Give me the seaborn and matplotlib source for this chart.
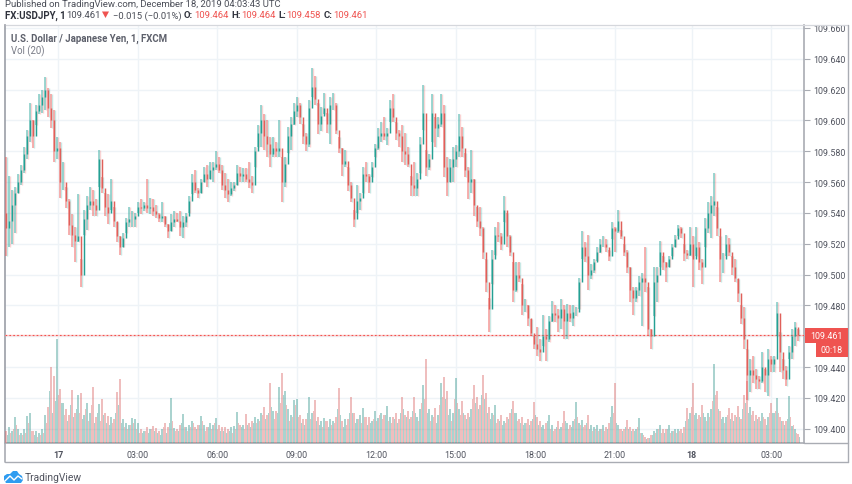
#!/usr/bin/env python
# -*- coding: utf-8 -*-
"""USDJPY 1 minute chart, TradingView look"""
import numpy as np
import pandas as pd
import matplotlib
matplotlib.use('Agg')
import matplotlib.pyplot as plt
import seaborn as sns
from matplotlib.patches import Polygon, Rectangle
from matplotlib.lines import Line2D

sns.set_style("white")
plt.rcParams['font.family'] = ['Roboto', 'DejaVu Sans']

# prices are thousandths above 109.000
high_pts = [
    576,564,555,557,565,571,583,594,611,600, 610,617,620,628,621,617,607,589,586,573,
    557,549,539,531,552,510,542,551,557,555, 549,581,563,553,552,562,544,534,525,527,
    537,544,541,540,547,549,547,562,550,549, 545,540,547,538,533,539,541,540,541,538,
    540,551,565,568,556,562,570,571,573,573, 580,576,571,566,562,560,560,571,570,569,
    569,573,564,583,597,610,604,600,589,589, 586,600,576,576,596,602,611,615,611,598,
    592,613,634,629,611,609,618,605,615,618, 611,589,582,581,570,560,542,558,553,570,
    573,565,573,585,595,599,602,595,613,617, 599,594,597,592,583,564,573,566,589,623,
    581,578,617,602,602,617,610,576,575,583, 584,604,596,579,570,581,562,544,544,531,
    510,485,516,531,534,527,551,540,526,508, 508,508,494,484,480,471,460,466,458,474,
    465,473,483,480,478,484,480,481,480,480, 479,498,528,521,526,507,510,518,523,525,
    523,516,534,531,542,529,520,516,505,492, 492,499,501,518,492,465,505,505,522,512,
    508,512,520,526,532,531,520,516,531,525, 531,521,510,537,547,551,566,544,525,514,
    526,524,512,510,497,480,479,452,445,447, 439,434,450,439,452,447,447,482,463,445,
    441,454,465,469,465,
]
low_pts = [
    512,518,520,527,553,558,566,575,586,582, 597,604,605,607,602,595,573,575,550,555,
    543,526,518,508,521,492,526,529,542,538, 538,557,553,538,533,542,531,521,513,518,
    527,531,531,531,540,539,541,540,539,538, 537,534,534,531,524,528,531,534,525,524,
    531,540,552,553,550,553,560,557,562,560, 568,566,555,550,547,551,554,558,560,560,
    560,556,553,570,583,583,581,576,570,576, 576,576,547,557,579,581,597,602,598,585,
    580,583,615,610,591,593,604,592,585,607, 591,579,564,570,554,547,531,540,542,553,
    560,553,563,576,581,586,587,584,599,599, 587,583,573,571,570,551,551,551,566,594,
    564,568,586,583,589,596,563,551,560,560, 570,576,576,563,549,553,538,531,525,510,
    489,463,494,513,521,516,534,518,512,482, 489,495,474,476,467,460,452,447,444,454,
    444,456,469,469,463,465,458,458,469,467, 473,478,510,508,490,497,501,509,514,518,
    515,509,523,515,527,523,512,501,482,474, 482,486,467,489,460,452,473,482,505,503,
    495,505,512,518,525,524,509,510,512,492, 512,503,494,518,527,524,538,525,495,501,
    512,512,500,495,482,468,452,419,424,430, 426,426,430,424,421,437,437,460,437,432,
    428,445,445,454,457,
]
close_pts = [
    530,535,545,553,560,568,578,590,600,590, 606,610,615,620,608,600,580,582,560,560,
    548,532,526,522,525,500,536,545,548,545, 542,575,556,544,540,548,535,525,518,524,
    534,536,536,538,544,543,545,543,544,541, 539,537,538,533,528,534,536,535,531,534,
    538,548,560,555,553,560,565,562,568,570, 572,568,558,555,552,556,558,566,564,565,
    562,560,558,580,592,600,590,585,578,582, 580,582,560,572,590,598,606,610,602,590,
    585,608,622,614,598,603,608,598,610,610, 594,582,572,574,558,550,536,548,550,565,
    564,560,570,582,590,592,590,592,608,602, 592,590,580,578,572,558,556,562,585,605,
    570,575,605,595,598,605,570,560,570,575, 580,590,582,568,560,562,545,535,530,515,
    495,478,510,526,525,520,542,525,515,490, 500,498,480,480,472,462,455,452,450,460,
    458,470,475,474,472,478,470,475,472,476, 476,495,518,512,500,503,508,515,520,520,
    518,512,530,528,535,525,515,505,490,485, 490,495,498,495,465,460,495,500,515,508,
    505,510,518,523,530,527,514,513,520,510, 518,508,505,530,540,545,548,530,510,510,
    520,515,505,498,488,472,458,435,438,435, 432,431,440,435,445,442,445,475,450,438,
    432,450,460,466,461,
]
# volume bars, one with the candle and one of the other colour just after it
volume = [
    12,16,12,26,14,10,14,27,30,12, 12,10,14,28,36,76,67,104,54,40,
    34,28,53,30,48,50,28,40,30,56, 26,39,44,30,27,26,24,51,64,24,
    20,18,25,24,20,14,12,16,14,17, 15,12,14,20,16,45,15,14,18,29,
    16,18,22,16,18,27,18,16,20,18, 25,18,16,16,14,16,17,31,18,18,
    29,20,22,26,24,30,36,28,60,32, 32,56,70,52,34,28,43,44,28,24,
    24,46,30,43,26,22,25,22,24,22, 26,55,22,24,24,46,30,24,28,35,
    26,26,22,32,25,30,28,37,26,26, 30,24,46,28,32,26,46,26,34,58,
    84,34,28,35,28,60,66,52,34,30, 65,34,42,28,30,34,58,46,38,68,
    50,36,30,38,24,28,22,26,30,42, 30,24,26,20,24,22,41,26,22,18,
    20,28,18,14,22,16,32,20,18,22, 41,20,23,18,28,18,16,18,14,18,
    16,20,37,60,18,14,14,23,16,14, 14,25,10,6,5,8,12,14,18,14,
    14,18,12,14,14,14,16,35,30,60, 30,28,38,26,30,34,79,52,32,26,
    26,35,30,28,37,24,48,62,36,32, 28,26,30,24,26,40,30,45,26,22,
    22,47,17,14,9,
]
volume_b = [
    8,10,14,18,8,8,10,20,12,8, 6,8,10,20,52,30,42,48,40,28,
    22,38,26,34,30,24,34,22,38,20, 30,22,28,20,18,20,30,38,20,16,
    14,18,20,14,10,10,12,10,14,12, 10,8,16,10,20,22,12,12,20,16,
    12,16,20,14,18,22,12,16,14,20, 14,12,12,10,12,10,14,20,16,14,
    18,16,20,20,22,28,24,30,36,24, 30,40,48,38,22,26,38,26,20,18,
    30,24,32,22,18,16,22,16,18,20, 34,28,16,18,30,30,20,24,20,26,
    18,20,24,22,28,24,28,22,20,24, 20,30,34,26,24,32,30,22,40,44,
    30,22,26,20,38,46,44,28,22,44, 40,28,30,24,26,44,40,34,48,44,
    30,24,28,20,22,18,20,24,34,30, 22,20,18,20,18,24,28,18,16,14,
    22,14,12,16,14,20,22,14,16,24, 26,18,16,20,14,12,14,12,14,12,
    14,26,30,20,14,12,16,14,12,12, 16,10,8,4,5,8,10,14,10,10,
    14,10,12,10,12,10,22,24,36,28, 24,26,30,22,26,42,48,34,24,20,
    28,24,22,26,26,34,40,30,28,22, 24,22,26,18,30,30,32,30,22,18,
    24,26,18,10,6,
]
first_open_pts = 540

price_ticks = [109.40, 109.42, 109.44, 109.46, 109.48, 109.50, 109.52, 109.54,
               109.56, 109.58, 109.60, 109.62, 109.64, 109.66]
# hours after 17 Dec 00:00 in bar time, the feed loses a few minutes before midnight
time_ticks = [0, 3, 6, 9, 12, 15, 18, 21, 23.9, 26.9]
time_labels = ['17', '03:00', '06:00', '09:00', '12:00', '15:00', '18:00', '21:00', '18', '03:00']
last_price = 109.461

UP = '#26a69a'
DOWN = '#ef5350'
GRID = '#eef3f7'
BORDER = '#a9acb3'
TXT = '#50535e'
W, H = 852, 485
XLIM = (-2.011, 28.14)
YLIM = (109.3908, 109.6619)


def fx(x):
    return x / W


def fy(y):
    return 1 - y / H


df = pd.DataFrame({'high': 109 + np.array(high_pts) / 1000,
                   'low': 109 + np.array(low_pts) / 1000,
                   'close': 109 + np.array(close_pts) / 1000})
df['open'] = df['close'].shift(1).fillna(109 + first_open_pts / 1000)
df['hour'] = -1.974 + 0.1132 * np.arange(len(df))
df['dir'] = np.where(df['close'] >= df['open'], 'up', 'down')
colors = df['dir'].map({'up': UP, 'down': DOWN})
other_colors = df['dir'].map({'up': DOWN, 'down': UP})
body_colors = df['dir'].map({'up': '#24a093', 'down': '#e0605a'})

vol_a = pd.DataFrame({'hour': df['hour'], 'volume': volume, 'dir': df['dir']})
vol_b = pd.DataFrame({'hour': df['hour'] + 0.0566, 'volume': volume_b,
                      'dir': df['dir'].map({'up': 'down', 'down': 'up'})})
vol_df = pd.concat([vol_a, vol_b], ignore_index=True).sort_values('hour')

fig = plt.figure(figsize=(W / 100, H / 100), dpi=100, facecolor='white')
rect = [fx(5), fy(444), fx(804) - fx(5), fy(26) - fy(444)]

# scales and grid at the bottom
ax = fig.add_axes(rect, zorder=1)
ax.set_xlim(*XLIM)
ax.set_ylim(*YLIM)
ax.yaxis.tick_right()
ax.set_yticks(price_ticks)
ax.set_yticklabels(['' if p == 109.46 else '%.3f' % p for p in price_ticks], fontsize=6.4, color=TXT)
ax.set_xticks(time_ticks)
ax.set_xticklabels(time_labels, fontsize=6.4, color=TXT)
ax.get_xticklabels()[0].set_fontweight('bold')
ax.get_xticklabels()[8].set_fontweight('bold')
ax.tick_params(axis='y', length=4, width=0.8, color=BORDER, pad=3)
ax.tick_params(axis='x', length=3, width=0.8, color=BORDER, pad=2)
ax.grid(True, color=GRID, linewidth=1)
ax.set_axisbelow(True)
ax.spines['top'].set_visible(False)
for s in ['left', 'right', 'bottom']:
    ax.spines[s].set_color(BORDER)
    ax.spines[s].set_linewidth(1.2)

# volume pane over the grid
ax_v = fig.add_axes(rect, zorder=2)
ax_v.patch.set_alpha(0)
sns.barplot(data=vol_df, x='hour', y='volume', hue='dir', palette={'up': UP, 'down': DOWN},
            native_scale=True, dodge=False, width=1.0, alpha=0.42, linewidth=0,
            legend=False, ax=ax_v)
ax_v.set_xlim(*XLIM)
ax_v.set_ylim(0, 418)
ax_v.axis('off')

# candles on top
ax_c = fig.add_axes(rect, zorder=3)
ax_c.patch.set_alpha(0)
ax_c.axhline(last_price, color='#ffc9c7', linewidth=1.0, zorder=1)
ax_c.axhline(last_price, color=DOWN, linewidth=0.8, linestyle=(0, (1.5, 2)), zorder=1)
ax_c.vlines(df['hour'] + 0.03, df['low'], df['high'], colors=other_colors, linewidth=1.0, alpha=0.25, zorder=2)
ax_c.vlines(df['hour'], df['low'], df['high'], colors=colors, linewidth=1.3, alpha=0.5, zorder=3)
ax_c.vlines(df['hour'], df[['open', 'close']].min(axis=1), df[['open', 'close']].max(axis=1),
            colors=body_colors, linewidth=1.05, zorder=4)
ax_c.set_xlim(*XLIM)
ax_c.set_ylim(*YLIM)
ax_c.axis('off')

# outer frame around price scale and time scale
fig.add_artist(Line2D([fx(5), fx(848)], [fy(25.5), fy(25.5)], color='#d5d7dc', lw=0.9))
fig.add_artist(Line2D([fx(848), fx(848)], [fy(25.5), fy(463)], color=BORDER, lw=1.0))
fig.add_artist(Line2D([fx(5), fx(848)], [fy(463), fy(463)], color=BORDER, lw=1.0))
fig.add_artist(Line2D([fx(5), fx(5)], [fy(25.5), fy(463)], color=BORDER, lw=1.2))
fig.add_artist(Line2D([fx(804), fx(848)], [fy(444), fy(444)], color=BORDER, lw=1.0))

# header lines
fig.text(fx(5), fy(4.5), 'Published on TradingView.com, December 18, 2019 04:03:43 UTC',
         fontsize=6.8, color='#4a4d57', va='center')
y_head = fy(16)
fig.text(fx(5), y_head, 'FX:USDJPY, 1', fontsize=7.0, fontweight='bold', color='#2f323c', va='center')
fig.text(fx(66), y_head, '109.461', fontsize=6.8, color='#4a4d57', va='center')
fig.add_artist(Polygon([[fx(102), fy(12.5)], [fx(109), fy(12.5)], [fx(105.5), fy(19)]], closed=True,
                       facecolor=DOWN, edgecolor='none'))
fig.text(fx(113), y_head, '\u22120.015 (\u22120.01%)', fontsize=6.8, color='#4a4d57', va='center')
for lx, lab, vx, val in [(184, 'O:', 194, '109.464'), (231, 'H:', 241, '109.464'),
                         (278, 'L:', 286, '109.458'), (324, 'C:', 333, '109.461')]:
    fig.text(fx(lx), y_head, lab, fontsize=6.8, fontweight='bold', color='#2f323c', va='center')
    fig.text(fx(vx), y_head, val, fontsize=6.8, color=DOWN, va='center')

# legend text inside the pane
fig.text(fx(11), fy(38.5), 'U.S. Dollar / Japanese Yen, 1, FXCM', fontsize=6.9, fontweight='bold',
         color='#5d606b', va='center', zorder=6)
fig.text(fx(11), fy(51), 'Vol (20)', fontsize=6.9, color='#787b86', va='center', zorder=6)

# last price tags on the scale
fig.add_artist(Rectangle((fx(805), fy(344)), fx(43), fy(329) - fy(344), facecolor=DOWN, edgecolor='none', zorder=6))
fig.add_artist(Rectangle((fx(816), fy(358)), fx(32), fy(344) - fy(358), facecolor=DOWN, edgecolor='none', zorder=6))
fig.text(fx(826.5), fy(336.5), '109.461', fontsize=6.4, color='white', va='center', ha='center', zorder=7)
fig.text(fx(832), fy(351), '00:18', fontsize=6.4, color='white', va='center', ha='center', zorder=7)

# TradingView mark
logo = [[4, 481], [4, 477], [7, 475], [10, 475], [13, 472], [17, 472], [19, 475], [22, 477], [23, 481], [21, 484], [6, 484]]
fig.add_artist(Polygon([[fx(a), fy(b)] for a, b in logo], closed=True, facecolor='#2f9cf0', edgecolor='none'))
fig.add_artist(Line2D([fx(5), fx(10), fx(14), fx(18), fx(22)], [fy(482), fy(477), fy(481), fy(477), fy(480)],
                      color='white', lw=1.0))
fig.text(fx(25), fy(478), 'TradingView', fontsize=7.4, color='#50535e', va='center')

plt.savefig('out.png', dpi=100)
plt.close()
